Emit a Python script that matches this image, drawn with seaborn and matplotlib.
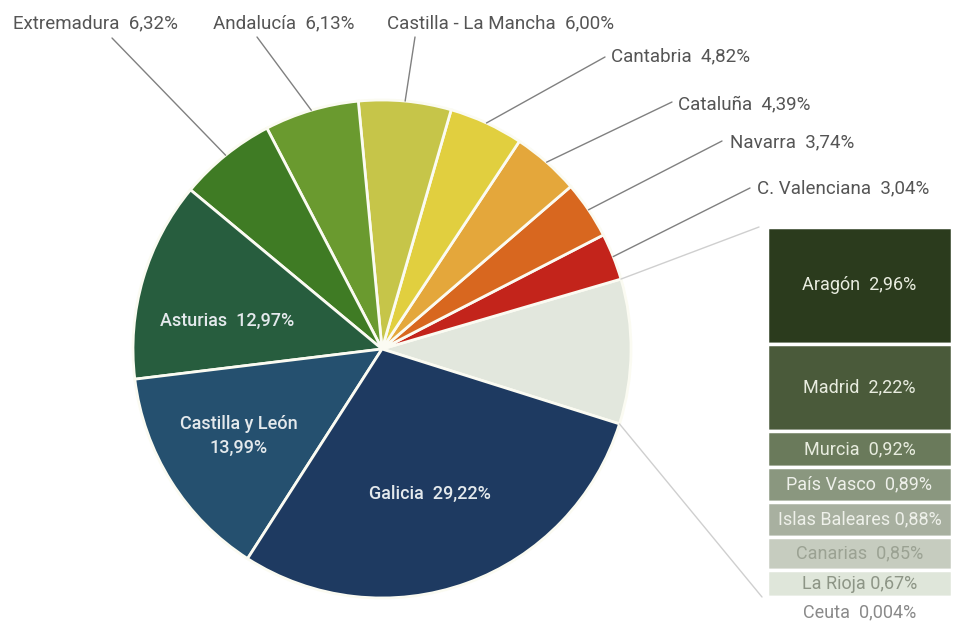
import numpy as np
import matplotlib
matplotlib.use("Agg")
import matplotlib.pyplot as plt
import seaborn as sns

# pie wedges, counterclockwise starting from the grouped "rest" wedge
pie_labels = ["Resto", "C. Valenciana", "Navarra", "Cataluña", "Cantabria",
              "Castilla - La Mancha", "Andalucía", "Extremadura", "Asturias",
              "Castilla y León", "Galicia"]
pie_values = [None, 3.04, 3.74, 4.39, 4.82, 6.00, 6.13, 6.32, 12.97, 13.99, 29.22]
pie_text = ["", "3,04%", "3,74%", "4,39%", "4,82%", "6,00%", "6,13%", "6,32%",
            "12,97%", "13,99%", "29,22%"]
pie_colors = ["#e2e7dd", "#c3241b", "#d8671f", "#e4a73b", "#e1cf3f", "#c6c549",
              "#6a9a2f", "#3f7b24", "#275d3e", "#25506f", "#1e3a61"]

# column on the right (breakdown of "Resto")
bar_labels = ["Aragón", "Madrid", "Murcia", "País Vasco", "Islas Baleares",
              "Canarias", "La Rioja", "Ceuta"]
bar_values = [2.96, 2.22, 0.92, 0.89, 0.88, 0.85, 0.67, 0.004]
bar_text = ["2,96%", "2,22%", "0,92%", "0,89%", "0,88%", "0,85%", "0,67%", "0,004%"]
bar_colors = ["#2b3b1d", "#4a5a3a", "#6a7a5b", "#8a977f", "#a8b0a0", "#c6ccbf",
              "#dfe6da", "#ffffff"]
bar_text_colors = ["#e8ecdf", "#e8ecdf", "#e8ecdf", "#eef0ea", "#eef0ea",
                   "#9ba293", "#8d9586", "#8a8a8a"]

pie_values[0] = sum(bar_values)

W, H = 954, 623
sns.set_theme(style="white")
plt.rcParams["font.family"] = ["Roboto", "DejaVu Sans"]

fig = plt.figure(figsize=(W / 100, H / 100), dpi=100)
ax = fig.add_axes([0, 0, 1, 1])

cx, cy, r = 382, H - 349, 249
wedges, _ = ax.pie(pie_values, colors=pie_colors, startangle=-17.5, counterclock=True,
                   radius=r, center=(cx, cy), frame=False,
                   wedgeprops=dict(edgecolor="#fbfbf2", linewidth=2))
ax.set_xlim(0, W)
ax.set_ylim(0, H)
ax.set_aspect("equal")
ax.axis("off")


def edge_point(theta, rad=r):
    t = np.deg2rad(theta)
    return cx + rad * np.cos(t), cy + rad * np.sin(t)


# inside labels
inner_pos = {8: (227, 321), 9: (239, 436), 10: (430, 494)}
for i, (px, py) in inner_pos.items():
    if pie_labels[i] == "Castilla y León":
        s = pie_labels[i] + "\n" + pie_text[i]
    else:
        s = pie_labels[i] + "  " + pie_text[i]
    ax.text(px, H - py, s, ha="center", va="center", color="#e4e9ec",
            fontsize=13, fontweight="medium", linespacing=1.45)

# outside labels with leader lines
elbows = {7: (112, 38), 6: (257, 37), 5: (415, 37), 4: (605, 57),
          3: (672, 102), 2: (722, 141), 1: (750, 188)}
text_pos = {7: (13, 23), 6: (213, 23), 5: (387, 23), 4: (611, 56),
            3: (678, 104), 2: (730, 142), 1: (757, 188)}
for i in elbows:
    w = wedges[i]
    ax_, ay_ = edge_point((w.theta1 + w.theta2) / 2)
    ex, ey = elbows[i]
    ax.plot([ax_, ex], [ay_, H - ey], color="#808080", lw=1.0)
    tx, ty = text_pos[i]
    ax.text(tx, H - ty, pie_labels[i] + "  " + pie_text[i], ha="left", va="center",
            color="#555555", fontsize=13.5)

# stacked column for the rest
bx, bw, btop, bheight = 767, 185, H - 227, 370
k = bheight / sum(bar_values)
heights = [v * k for v in bar_values]
tops = btop - np.concatenate([[0], np.cumsum(heights)[:-1]])
bottoms = tops - np.array(heights)
ax.bar([bx] * len(heights), heights, bottom=bottoms, width=bw, align="edge",
       color=bar_colors, edgecolor="white", linewidth=2.5)
for lab, txt, top, h, col in zip(bar_labels, bar_text, tops, heights, bar_text_colors):
    ycen = top - h / 2
    if lab == "Ceuta":
        ycen = top - 16
    sep = " " if lab == "La Rioja" else "  "
    if lab == "Islas Baleares":
        sep = " "
    ax.text(bx + bw / 2, ycen, lab + sep + txt, ha="center", va="center",
            color=col, fontsize=13)

# connector lines from the rest wedge to the column
w0 = wedges[0]
ux, uy = edge_point(w0.theta2)
lx, ly = edge_point(w0.theta1)
ax.plot([ux, bx - 8], [uy, btop], color="#cfcfcf", lw=1.0)
ax.plot([lx, bx - 5], [ly, bottoms[-1]], color="#cfcfcf", lw=1.0)

fig.savefig("out.png", dpi=100, facecolor="white")
